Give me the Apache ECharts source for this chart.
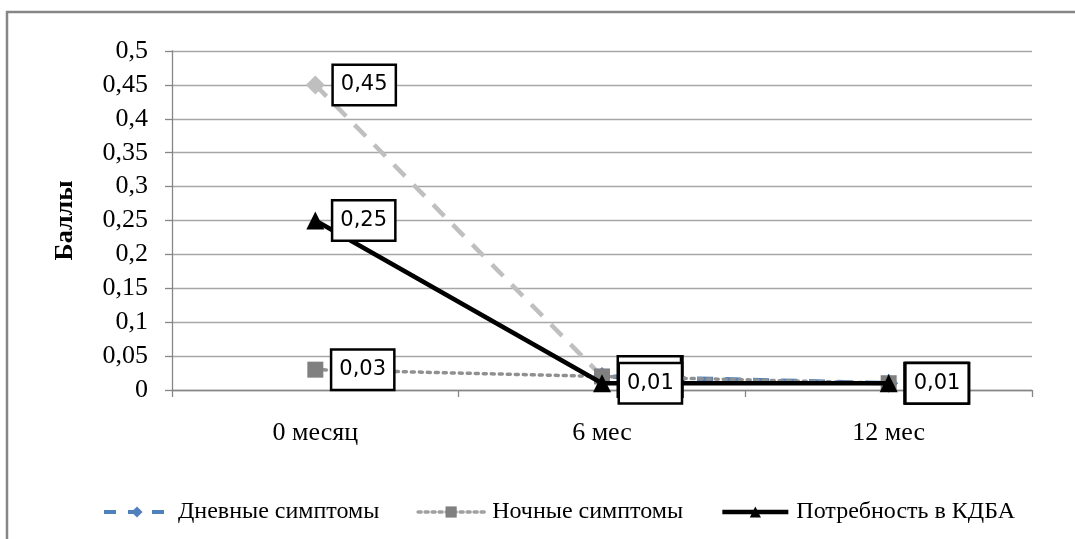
<!DOCTYPE html>
<html>
<head>
<meta charset="utf-8">
<script src="https://cdn.jsdelivr.net/npm/echarts@6/dist/echarts.min.js"></script>
<style>
html,body{margin:0;padding:0;background:#fff;}
#chart{width:1075px;height:539px;}
</style>
</head>
<body>
<div id="chart"></div>
<script>
const categories = ['0 месяц', '6 мес', '12 мес'];
const seriesNames = ['Дневные симптомы', 'Ночные симптомы', 'Потребность в КДБА'];
const dayValues = [0.45, 0.02, 0.01];
const nightValues = [0.03, 0.02, 0.01];
const needValues = [0.25, 0.01, 0.01];
const yTicks = [0, 0.05, 0.1, 0.15, 0.2, 0.25, 0.3, 0.35, 0.4, 0.45, 0.5];

const comma = v => String(v).replace('.', ',');
const serif = '"Liberation Serif", "Times New Roman", serif';
const DAY_BLUE = '#4F81BD';
const DAY_GRAY = '#BFBFBF';

const labelStyle = {
  show: true,
  position: 'right',
  distance: 9,
  formatter: p => comma(p.value),
  fontFamily: '"DejaVu Sans", Verdana, sans-serif',
  fontSize: 21,
  color: '#000',
  backgroundColor: '#fff',
  borderColor: '#000',
  borderWidth: 2.5,
  padding: [6, 7, 6, 7],
  lineHeight: 26
};

// first segment of "Дневные" drawn gray, the rest blue
const split = 1 / (dayValues.length - 1);
const dayLineColor = new echarts.graphic.LinearGradient(0, 0, 1, 0, [
  {offset: 0, color: DAY_GRAY},
  {offset: split, color: DAY_GRAY},
  {offset: split, color: DAY_BLUE},
  {offset: 1, color: DAY_BLUE}
]);
const dayData = dayValues.map((v, i) => i === 0 ? {value: v, itemStyle: {color: DAY_GRAY}} : v);

const chart = echarts.init(document.getElementById('chart'), null, {renderer: 'canvas'});
chart.setOption({
  animation: false,
  backgroundColor: '#fff',
  graphic: [{
    type: 'rect',
    shape: {x: 7, y: 12, width: 1200, height: 700},
    style: {fill: 'none', stroke: '#868686', lineWidth: 2.5},
    silent: true,
    z: -1
  }],
  grid: {left: 172, right: 43, top: 51, bottom: 149},
  legend: {
    left: 97,
    top: 495,
    itemWidth: 66,
    itemHeight: 14,
    itemGap: 37,
    textStyle: {fontFamily: serif, fontSize: 24, color: '#000', padding: [0, 0, 0, 3]},
    data: [
      {name: seriesNames[0], itemStyle: {color: DAY_BLUE}, lineStyle: {color: DAY_BLUE, width: 4, type: [12, 12]}},
      {name: seriesNames[1], lineStyle: {color: '#A0A0A0', width: 3.5, type: [3, 4]}},
      {name: seriesNames[2], lineStyle: {color: '#000', width: 4.5}}
    ]
  },
  xAxis: {
    type: 'category',
    data: categories,
    boundaryGap: true,
    axisLine: {lineStyle: {color: '#868686', width: 1.3}},
    axisTick: {show: true, length: 7, lineStyle: {color: '#868686', width: 1.3}},
    axisLabel: {fontFamily: serif, fontSize: 26, color: '#000', margin: 30}
  },
  yAxis: {
    type: 'value',
    min: 0,
    max: 0.5,
    interval: 0.05,
    name: 'Баллы',
    nameLocation: 'middle',
    nameRotate: 90,
    nameGap: 94,
    nameTextStyle: {fontFamily: serif, fontSize: 26, fontWeight: 'bold', color: '#000'},
    axisLine: {show: true, lineStyle: {color: '#868686', width: 1.3}},
    axisTick: {show: true, length: 7, lineStyle: {color: '#868686', width: 1.3}},
    splitLine: {lineStyle: {color: '#A6A6A6', width: 1.3}},
    axisLabel: {
      fontFamily: serif, fontSize: 26, color: '#000', margin: 24,
      formatter: v => {
        const t = yTicks.find(x => Math.abs(x - v) < 1e-9);
        return comma(t !== undefined ? t : +v.toFixed(2));
      }
    }
  },
  series: [
    {
      name: seriesNames[0],
      type: 'line',
      data: dayData,
      symbol: 'diamond',
      symbolSize: 19,
      itemStyle: {color: DAY_BLUE},
      lineStyle: {color: dayLineColor, width: 4.5, type: [16, 12]},
      label: labelStyle,
      z: 2
    },
    {
      name: seriesNames[1],
      type: 'line',
      data: nightValues,
      symbol: 'rect',
      symbolSize: 16,
      itemStyle: {color: '#808080'},
      lineStyle: {color: '#909090', width: 3.5, type: [3, 5], cap: 'round'},
      label: labelStyle,
      z: 3
    },
    {
      name: seriesNames[2],
      type: 'line',
      data: needValues,
      symbol: 'triangle',
      symbolSize: 18,
      itemStyle: {color: '#000'},
      lineStyle: {color: '#000', width: 4.5},
      label: labelStyle,
      z: 4
    }
  ]
});
</script>
</body>
</html>
